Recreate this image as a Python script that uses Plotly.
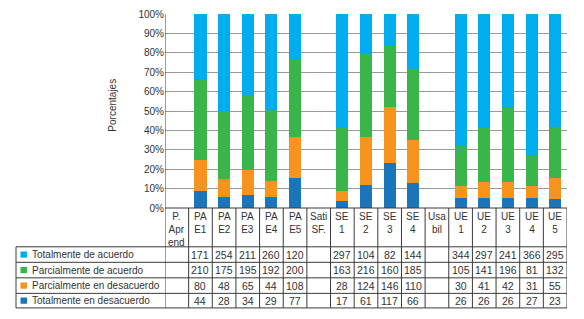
import plotly.graph_objects as go

# ---- data ----
categories = ["P. Aprend", "PA E1", "PA E2", "PA E3", "PA E4", "PA E5", "Sati SF.",
              "SE 1", "SE 2", "SE 3", "SE 4", "Usa bil",
              "UE 1", "UE 2", "UE 3", "UE 4", "UE 5"]
header_labels = ["P.<br>Apr<br>end", "PA<br>E1", "PA<br>E2", "PA<br>E3", "PA<br>E4", "PA<br>E5",
                 "Sati<br>SF.", "SE<br>1", "SE<br>2", "SE<br>3", "SE<br>4", "Usa<br>bil",
                 "UE<br>1", "UE<br>2", "UE<br>3", "UE<br>4", "UE<br>5"]

totalmente_de_acuerdo = [None, 171, 254, 211, 260, 120, None, 297, 104, 82, 144, None, 344, 297, 241, 366, 295]
parcialmente_de_acuerdo = [None, 210, 175, 195, 192, 200, None, 163, 216, 160, 185, None, 105, 141, 196, 81, 132]
parcialmente_en_desacuerdo = [None, 80, 48, 65, 44, 108, None, 28, 124, 146, 110, None, 30, 41, 42, 31, 55]
totalmente_en_desacuerdo = [None, 44, 28, 34, 29, 77, None, 17, 61, 117, 66, None, 26, 26, 26, 27, 23]

series_names = ["Totalmente de acuerdo", "Parcialmente de acuerdo",
                "Parcialmente en desacuerdo", "Totalmente en desacuerdo"]
series_values = [totalmente_de_acuerdo, parcialmente_de_acuerdo,
                 parcialmente_en_desacuerdo, totalmente_en_desacuerdo]
series_colors = ["#00AEEF", "#3AB54A", "#F7941D", "#1B75BB"]

FONT = "Liberation Sans"
TXT = "#333333"
LINE = "#3a3a3a"

fig = go.Figure()
# stack bottom-up: reversed order of table rows
for name, vals, col in reversed(list(zip(series_names, series_values, series_colors))):
    fig.add_trace(go.Bar(x=categories, y=vals, name=name, marker=dict(color=col, line=dict(width=0)),
                         showlegend=False))

# ---- table geometry (paper coordinates) ----
plot_left_px, plot_right_px = 165, 567
pw = plot_right_px - plot_left_px
ph = 200.0
def px_x(px):
    return (px - plot_left_px) / pw
def px_y(py):
    return (208 - py) / ph

row_lines_px = [248, 264, 280, 296, 311]
row_lines = [px_y(v) for v in row_lines_px]
label_left = px_x(16)

shapes = []
# vertical column lines
for i in range(len(categories) + 1):
    shapes.append(dict(type="line", xref="x", yref="paper", x0=i - 0.5, x1=i - 0.5,
                       y0=0 if i > 0 else 1, y1=row_lines[-1], line=dict(color=LINE, width=1)))
# label column left border
shapes.append(dict(type="line", xref="paper", yref="paper", x0=label_left, x1=label_left,
                   y0=row_lines[0], y1=row_lines[-1], line=dict(color=LINE, width=1)))
# horizontal lines
shapes.append(dict(type="line", xref="paper", yref="paper", x0=0, x1=1, y0=0, y1=0,
                   line=dict(color=LINE, width=1)))
for yv in row_lines:
    shapes.append(dict(type="line", xref="paper", yref="paper", x0=label_left, x1=1, y0=yv, y1=yv,
                       line=dict(color=LINE, width=1)))

annotations = []
# header
for cat, lab in zip(categories, header_labels):
    annotations.append(dict(x=cat, xref="x", y=px_y(209), yref="paper", yanchor="top",
                            text=lab, showarrow=False, align="center",
                            font=dict(family=FONT, size=10, color=TXT)))
# rows
for r, (name, vals, col) in enumerate(zip(series_names, series_values, series_colors)):
    yc = (row_lines[r] + row_lines[r + 1]) / 2
    shapes.append(dict(type="rect", xref="paper", yref="paper", x0=px_x(20.5), x1=px_x(27),
                       y0=yc - 0.016, y1=yc + 0.016, fillcolor=col, line=dict(width=0)))
    annotations.append(dict(x=px_x(29.5), xref="paper", y=yc, yref="paper", xanchor="left",
                            yanchor="middle", text=name, showarrow=False,
                            font=dict(family=FONT, size=10, color=TXT)))
    for cat, v in zip(categories, vals):
        if v is not None:
            annotations.append(dict(x=cat, xref="x", y=yc, yref="paper", yanchor="middle",
                                    text=str(v), showarrow=False,
                                    font=dict(family=FONT, size=10.5, color=TXT)))

# y-axis title
annotations.append(dict(x=px_x(105), xref="paper", y=0.53, yref="paper", text="Porcentajes",
                        textangle=-90, showarrow=False, font=dict(family=FONT, size=10, color=TXT)))

fig.update_layout(
    width=584, height=319,
    margin=dict(l=165, r=17, t=8, b=111),
    barmode="stack", barnorm="percent", bargap=0.49,
    plot_bgcolor="white", paper_bgcolor="white",
    font=dict(family=FONT, size=10, color=TXT),
    shapes=shapes, annotations=annotations,
    xaxis=dict(showticklabels=False, ticks="", showgrid=False, zeroline=False,
               range=[-0.5, len(categories) - 0.5], fixedrange=True),
    yaxis=dict(range=[0, 100], dtick=10, ticksuffix="%", showgrid=True, gridcolor="#9a9a9a",
               gridwidth=1, zeroline=False, showline=False, ticks="",
               tickfont=dict(family=FONT, size=10, color=TXT), fixedrange=True),
)

fig.write_html("out.html", config={"displayModeBar": False},
               post_script="document.body.style.margin='0';document.body.style.overflow='hidden';")
